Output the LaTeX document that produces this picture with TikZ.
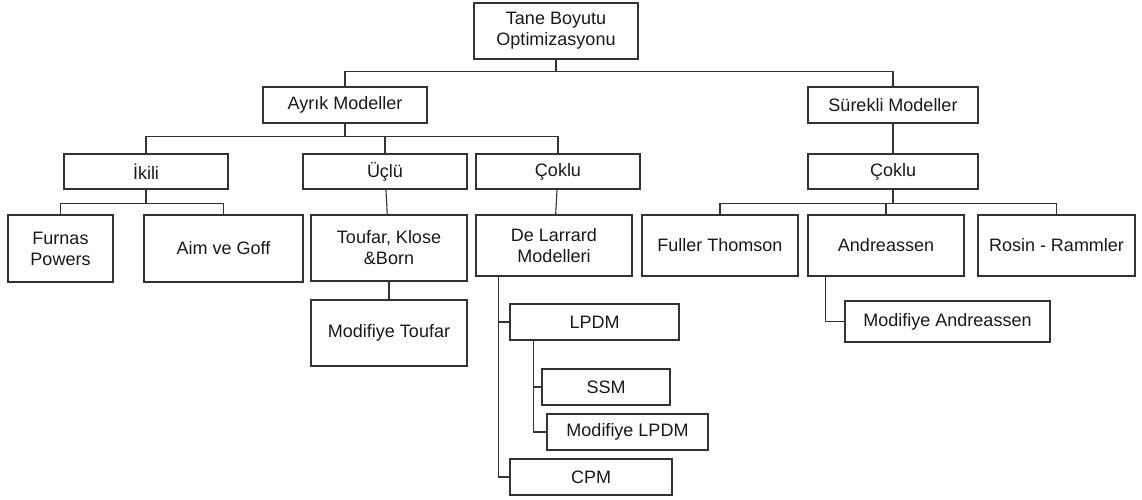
\documentclass[tikz,border=0pt]{standalone}
\usepackage{fontspec}
\setmainfont{Liberation Sans}
\definecolor{cLine}{HTML}{333333}
\usetikzlibrary{calc}

\begin{document}
\begin{tikzpicture}[x=1pt, y=-1pt,
		bx/.style={draw=cLine, line width=1.1pt, inner sep=0pt, align=center, font=\fontsize{18}{21}\selectfont, text=black!90},
		ln/.style={draw=cLine, line width=1.1pt}]
		\useasboundingbox (0,0) rectangle (1142,500);
		% top levels
		\node [bx, minimum width=164, minimum height=56] (root) at (556,31) {Tane Boyutu\\Optimizasyonu};
		\node [bx, minimum width=164, minimum height=36] (ayrik) at (345,105) {Ayrık Modeller};
		\node [bx, minimum width=170, minimum height=36] (surekli) at (893,105) {Sürekli Modeller};
		\node [bx, minimum width=164, minimum height=35] (ikili) at (146,171.5) {İkili};
		\node [bx, minimum width=164, minimum height=35] (uclu) at (385,171.5) {Üçlü};
		\node [bx, minimum width=164, minimum height=35] (coklua) at (558,171.5) {Çoklu};
		\node [bx, minimum width=170, minimum height=35] (coklub) at (893,171.5) {Çoklu};
		% models
		\node [bx, minimum width=105, minimum height=67] (furnas) at (60.5,248.5) {Furnas\\Powers};
		\node [bx, minimum width=159, minimum height=67] (aim) at (223.5,248.5) {Aim ve Goff};
		\node [bx, minimum width=156, minimum height=66] (toufar) at (389,248) {Toufar, Klose\\\&Born};
		\node [bx, minimum width=156, minimum height=61] (larrard) at (554,245.5) {De Larrard\\Modelleri};
		\node [bx, minimum width=156, minimum height=61] (fuller) at (720,245.5) {Fuller Thomson};
		\node [bx, minimum width=156, minimum height=61] (andreassen) at (886,245.5) {Andreassen};
		\node [bx, minimum width=157, minimum height=61] (rosin) at (1056.5,245.5) {Rosin - Rammler};
		\node [bx, minimum width=156, minimum height=66] (modtoufar) at (389,333) {Modifiye Toufar};
		\node [bx, minimum width=169, minimum height=36] (lpdm) at (594.5,322) {LPDM};
		\node [bx, minimum width=128, minimum height=36] (ssm) at (606,387) {SSM};
		\node [bx, minimum width=161, minimum height=36] (modlpdm) at (627.5,432) {Modifiye LPDM};
		\node [bx, minimum width=162, minimum height=36] (cpm) at (591,477) {CPM};
		\node [bx, minimum width=205, minimum height=41] (modandr) at (947.5,321.5) {Modifiye Andreassen};
		% connectors
		\draw [ln] (root.south) -- ++(0,12) coordinate (b0);
		\draw [ln] (ayrik.north) |- (b0) -| (surekli.north);
		\draw [ln] (ayrik.south) -- ++(0,13) coordinate (b1);
		\draw [ln] (ikili.north) |- (b1) -| (coklua.north);
		\draw [ln] (uclu.north) -- (uclu.north |- b1);
		\draw [ln] (surekli) -- (coklub);
		\draw [ln] (ikili.south) -- ++(0,14) coordinate (b2);
		\draw [ln] (furnas.north) |- (b2) -| (aim.north);
		\draw [ln] (uclu) -- (toufar);
		\draw [ln] (coklua) -- (larrard);
		\draw [ln] (toufar) -- (modtoufar);
		\draw [ln] (coklub.south) -- ++(0,14) coordinate (b3);
		\draw [ln] (fuller.north) |- (b3) -| (rosin.north);
		\draw [ln] (andreassen.north) -- (andreassen.north |- b3);
		\coordinate (s1) at ([xshift=23pt]larrard.south west);
		\draw [ln] (s1) |- (cpm.west);
		\draw [ln] (s1 |- lpdm.west) -- (lpdm.west);
		\coordinate (s2) at ([xshift=24pt]lpdm.south west);
		\draw [ln] (s2) |- (modlpdm.west);
		\draw [ln] (s2 |- ssm.west) -- (ssm.west);
		\draw [ln] ([xshift=18pt]andreassen.south west) |- (modandr.west);
\end{tikzpicture}
\end{document}
